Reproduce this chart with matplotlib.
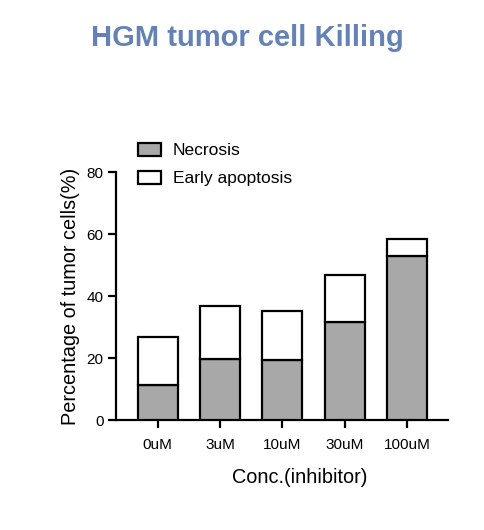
import matplotlib
matplotlib.use("Agg")
import matplotlib.pyplot as plt
import numpy as np

# Values
concentrations = ["0uM", "3uM", "10uM", "30uM", "100uM"]
necrosis = [11.3, 19.7, 19.3, 31.6, 52.9]
early_apoptosis = [15.4, 17.2, 16.0, 15.2, 5.6]

plt.rcParams["font.family"] = ["Liberation Sans", "DejaVu Sans"]

fig = plt.figure(figsize=(4.85, 5.3), dpi=100)
ax = fig.add_axes([0.239, 0.2075, 0.685, 0.4675])

x = np.arange(len(concentrations))
lw = 1.6
ax.bar(x, necrosis, width=0.64, color="#a8a8a8", edgecolor="black",
       linewidth=lw, label="Necrosis", zorder=3)
ax.bar(x, early_apoptosis, width=0.64, bottom=necrosis, color="white",
       edgecolor="black", linewidth=lw, label="Early apoptosis", zorder=3)

ax.set_xlim(-0.67, 4.66)
ax.set_ylim(0, 80)
ax.set_yticks([0, 20, 40, 60, 80])
ax.set_xticks(x)
ax.set_xticklabels(concentrations)

for side in ["top", "right"]:
    ax.spines[side].set_visible(False)
for side in ["left", "bottom"]:
    ax.spines[side].set_linewidth(lw)
ax.tick_params(axis="both", length=5.8, width=lw, labelsize=11, pad=3)
ax.tick_params(axis="x", pad=7)

ax.set_xlabel("Conc.(inhibitor)", fontsize=14.3)
ax.xaxis.set_label_coords((300 - 116) / 332, -0.193)
ax.set_ylabel("Percentage of tumor cells(%)", fontsize=14.3, labelpad=5)

fig.text(0.511, 0.928, "HGM tumor cell Killing", ha="center", va="center",
         fontsize=21, fontweight="bold", color="#6482b6")

ax.legend(loc="upper left", bbox_to_anchor=(138 / 485, 1 - 143 / 530),
          bbox_transform=fig.transFigure, frameon=False, fontsize=12.5,
          handlelength=1.32, handleheight=0.75, handletextpad=0.69,
          labelspacing=0.72, borderpad=0, borderaxespad=0)

fig.savefig("out.png", dpi=100)
